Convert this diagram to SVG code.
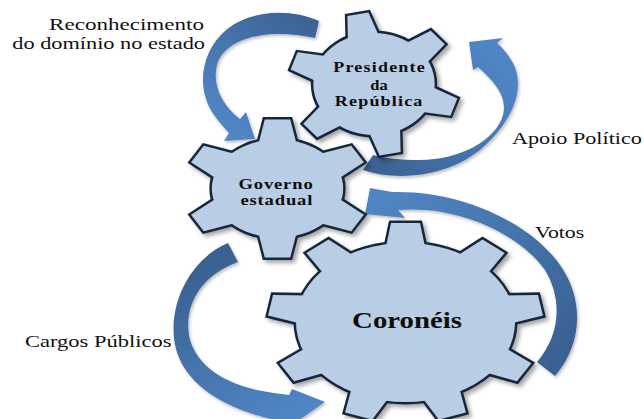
<svg xmlns="http://www.w3.org/2000/svg" xmlns:xlink="http://www.w3.org/1999/xlink" width="644" height="419" viewBox="0 0 644 419">
<style>
.gs{vector-effect:non-scaling-stroke}
.edge{fill:#17283d;stroke:#17283d;stroke-width:5;stroke-linejoin:miter}
.face{fill:#b9cde5;stroke:none}
.gt{font-weight:bold;fill:#0d0d0d;text-anchor:middle}
.lb{fill:#111}
.arrow{filter:url(#ash)}
</style>
<defs>
<filter id="shadow" x="-20%" y="-20%" width="150%" height="150%">
<feDropShadow dx="3" dy="3" stdDeviation="2.2" flood-color="#000" flood-opacity="0.35"/>
</filter>
<filter id="ash" x="-20%" y="-20%" width="150%" height="150%">
<feDropShadow dx="1.5" dy="2" stdDeviation="1.5" flood-color="#000" flood-opacity="0.25"/>
</filter>
<linearGradient id="gA" gradientUnits="userSpaceOnUse" x1="318" y1="25" x2="240" y2="135"><stop offset="0" stop-color="#3b6394"/><stop offset="1" stop-color="#5185c4"/></linearGradient>
<linearGradient id="gB" gradientUnits="userSpaceOnUse" x1="365" y1="165" x2="485" y2="50"><stop offset="0" stop-color="#3a6192"/><stop offset="1" stop-color="#5085c4"/></linearGradient>
<linearGradient id="gC" gradientUnits="userSpaceOnUse" x1="545" y1="370" x2="380" y2="200"><stop offset="0" stop-color="#3a6192"/><stop offset="1" stop-color="#5085c4"/></linearGradient>
<linearGradient id="gD" gradientUnits="userSpaceOnUse" x1="232" y1="250" x2="310" y2="405"><stop offset="0" stop-color="#3a6192"/><stop offset="1" stop-color="#5085c4"/></linearGradient>
<g id="shp-pres">
<circle class="gs" r="51"/>
<polygon class="gs" points="-13.5,-45 -9,-71 9,-71 13.5,-45" transform="rotate(-11)"/>
<polygon class="gs" points="-13.5,-45 -9,-71 9,-71 13.5,-45" transform="rotate(49)"/>
<polygon class="gs" points="-13.5,-45 -9,-71 9,-71 13.5,-45" transform="rotate(109)"/>
<polygon class="gs" points="-13.5,-45 -9,-71 9,-71 13.5,-45" transform="rotate(169)"/>
<polygon class="gs" points="-13.5,-45 -9,-71 9,-71 13.5,-45" transform="rotate(229)"/>
<polygon class="gs" points="-13.5,-45 -9,-71 9,-71 13.5,-45" transform="rotate(289)"/>
</g>
<g id="shp-gov">
<circle class="gs" r="49"/>
<polygon class="gs" points="-14.5,-43 -9.5,-69 9.5,-69 14.5,-43" transform="rotate(0)"/>
<polygon class="gs" points="-14.5,-43 -9.5,-69 9.5,-69 14.5,-43" transform="rotate(60)"/>
<polygon class="gs" points="-14.5,-43 -9.5,-69 9.5,-69 14.5,-43" transform="rotate(120)"/>
<polygon class="gs" points="-14.5,-43 -9.5,-69 9.5,-69 14.5,-43" transform="rotate(180)"/>
<polygon class="gs" points="-14.5,-43 -9.5,-69 9.5,-69 14.5,-43" transform="rotate(240)"/>
<polygon class="gs" points="-14.5,-43 -9.5,-69 9.5,-69 14.5,-43" transform="rotate(300)"/>
</g>
<g id="shp-cor">
<circle class="gs" r="79.5"/>
<polygon class="gs" points="-14.5,-73.5 -10.5,-99.5 10.5,-99.5 14.5,-73.5" transform="rotate(0)"/>
<polygon class="gs" points="-14.5,-73.5 -10.5,-99.5 10.5,-99.5 14.5,-73.5" transform="rotate(40)"/>
<polygon class="gs" points="-14.5,-73.5 -10.5,-99.5 10.5,-99.5 14.5,-73.5" transform="rotate(80)"/>
<polygon class="gs" points="-14.5,-73.5 -10.5,-99.5 10.5,-99.5 14.5,-73.5" transform="rotate(120)"/>
<polygon class="gs" points="-14.5,-73.5 -10.5,-99.5 10.5,-99.5 14.5,-73.5" transform="rotate(160)"/>
<polygon class="gs" points="-14.5,-73.5 -10.5,-99.5 10.5,-99.5 14.5,-73.5" transform="rotate(200)"/>
<polygon class="gs" points="-14.5,-73.5 -10.5,-99.5 10.5,-99.5 14.5,-73.5" transform="rotate(240)"/>
<polygon class="gs" points="-14.5,-73.5 -10.5,-99.5 10.5,-99.5 14.5,-73.5" transform="rotate(280)"/>
<polygon class="gs" points="-14.5,-73.5 -10.5,-99.5 10.5,-99.5 14.5,-73.5" transform="rotate(320)"/>
</g>
</defs>
<rect width="644" height="419" fill="#ffffff"/>

<g id="connectors">
<path id="arrow-reconhecimento" class="arrow" fill="url(#gA)" d="M319,21 C290,8 250,10 226,30 C200,52 196,90 214,115 C219,122 224,128 229,133 L224,141 L255,139 L246,112 L240,119 C222,105 212,85 217,65 C223,42 260,26 315,38 Z"/>
<path id="arrow-apoio" class="arrow" fill="url(#gB)" d="M363,170 C395,181 445,178 480,150 C510,125 527,90 513,63 C508,54 502,47 497,43 L503,38 L469,42 L473,70 L478,67 C492,80 508,95 503,115 C496,140 460,160 420,160 C400,160 385,158 373,155 Z"/>
<path id="arrow-votos" class="arrow" fill="url(#gC)" d="M555,376 C582,345 585,300 560,265 C530,222 460,190 392,192 L370,188 L365,214 L405,218 L398,210 C460,205 520,235 545,270 C563,300 560,335 537,362 Z"/>
<path id="arrow-cargos" class="arrow" fill="url(#gD)" d="M228,243 C192,258 170,300 174,338 C178,380 220,410 285,422 L282,432 L325,402 L292,389 L289,395 C235,390 200,372 190,340 C182,305 202,275 238,262 Z"/>
</g>

<g id="node-presidente">
<g filter="url(#shadow)">
<g transform="translate(374,84) scale(1.19,1)">
<use xlink:href="#shp-pres" class="edge"/>
<use xlink:href="#shp-pres" class="face"/>
</g>
</g>
<text class="gt" font-family="Liberation Serif" font-size="15" letter-spacing="1" transform="translate(379.6,72) scale(1.2,1)">Presidente</text>
<text class="gt" font-family="Liberation Serif" font-size="15" transform="translate(379,89.5) scale(1.1,1)">da</text>
<text class="gt" font-family="Liberation Serif" font-size="15" letter-spacing="1" transform="translate(379.2,105.5) scale(1.2,1)">República</text>
</g>

<g id="node-governo">
<g filter="url(#shadow)">
<g transform="translate(277.5,188.5) scale(1.34,1)">
<use xlink:href="#shp-gov" class="edge"/>
<use xlink:href="#shp-gov" class="face"/>
</g>
</g>
<text class="gt" font-family="Liberation Serif" font-size="15.5" letter-spacing="0.7" transform="translate(276,188.5) scale(1.2,1)">Governo</text>
<text class="gt" font-family="Liberation Serif" font-size="15.5" letter-spacing="0.7" transform="translate(276.8,205) scale(1.2,1)">estadual</text>
</g>

<g id="node-coroneis">
<g filter="url(#shadow)">
<g transform="translate(405.5,322.5) scale(1.377,1)">
<use xlink:href="#shp-cor" class="edge"/>
<use xlink:href="#shp-cor" class="face"/>
</g>
</g>
<text class="gt" font-family="Liberation Serif" font-size="24" transform="translate(407,328) scale(1.2,1)">Coronéis</text>
</g>

<g id="labels">
<text class="lb" font-family="Liberation Serif" font-size="17.5" text-anchor="end" transform="translate(204,30) scale(1.318,1)">Reconhecimento</text>
<text class="lb" font-family="Liberation Serif" font-size="17.5" text-anchor="end" transform="translate(205,49) scale(1.276,1)">do domínio no estado</text>
<text class="lb" font-family="Liberation Serif" font-size="17.5" transform="translate(512,143.5) scale(1.267,1)">Apoio Político</text>
<text class="lb" font-family="Liberation Serif" font-size="16.5" transform="translate(535,238) scale(1.32,1)">Votos</text>
<text class="lb" font-family="Liberation Serif" font-size="17.5" transform="translate(25,347) scale(1.287,1)">Cargos Públicos</text>
</g>
</svg>
